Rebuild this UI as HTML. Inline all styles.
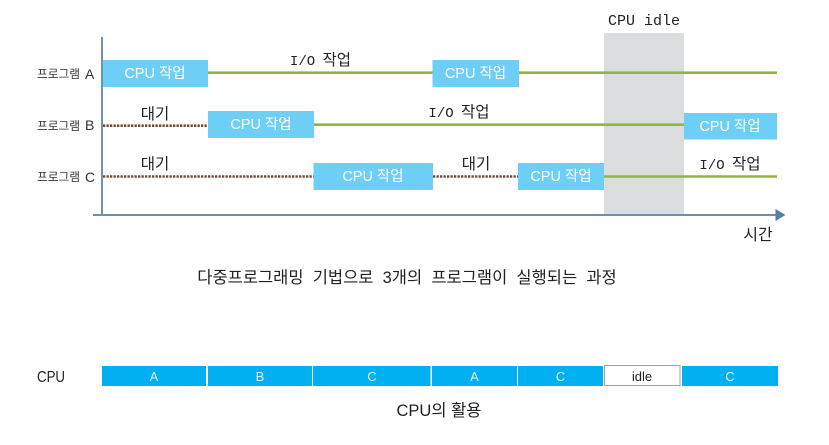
<!DOCTYPE html>
<html lang="ko"><head><meta charset="utf-8"><style>
html,body{margin:0;padding:0;background:#fff}
svg{display:block}
text{font-family:"Liberation Sans","Noto Sans CJK KR",sans-serif}
.w{fill:#fff;font-size:14.500px;text-anchor:middle}
.l{fill:#333;font-size:11.700px}
.m{font-family:"Liberation Mono","Noto Sans CJK KR",monospace;fill:#222;font-size:14px;text-anchor:middle}
.k{fill:#222;font-size:15.500px;text-anchor:middle}
.s{fill:#dff4fd;font-size:13px;text-anchor:middle}
</style></head><body>
<svg width="829" height="445" viewBox="0 0 829 445" xmlns="http://www.w3.org/2000/svg">
<rect x="604" y="33" width="80" height="181" fill="#dcddde"/>
<g stroke="#8fb63f" stroke-width="2.600">
<line x1="208" y1="72.700" x2="777" y2="72.700"/>
<line x1="314" y1="124.700" x2="684" y2="124.700"/>
<line x1="604" y1="176.500" x2="777" y2="176.500"/>
</g>
<g stroke="#6f4e37" stroke-width="2.600" stroke-dasharray="2.300 1.200">
<line x1="103" y1="125.700" x2="208" y2="125.700"/>
<line x1="103" y1="176.500" x2="314" y2="176.500"/>
<line x1="433" y1="176.500" x2="518" y2="176.500"/>
</g>
<g fill="#6dcff6">
<rect x="102" y="60" width="106" height="27"/>
<rect x="432.500" y="60" width="86.500" height="27"/>
<rect x="208" y="111" width="106" height="27"/>
<rect x="684" y="113" width="93" height="26.500"/>
<rect x="313.500" y="163" width="119.500" height="27"/>
<rect x="518" y="163" width="86" height="27"/>
</g>
<rect x="101" y="37" width="2" height="178" fill="#7391b5"/>
<rect x="93" y="214" width="683" height="2" fill="#6c8fb5"/>
<polygon points="775.500,209 785.500,215 775.500,221" fill="#4f81ac"/>
<text class="w" x="155" y="78">CPU 작업</text>
<text class="w" x="475.500" y="78">CPU 작업</text>
<text class="w" x="261" y="129">CPU 작업</text>
<text class="w" x="730" y="131">CPU 작업</text>
<text class="w" x="373" y="181">CPU 작업</text>
<text class="w" x="561" y="181">CPU 작업</text>
<text class="l" x="37" y="78">프로그램</text><text x="85" y="79" font-size="14" fill="#333">A</text>
<text class="l" x="37" y="130">프로그램</text><text x="85" y="130" font-size="14" fill="#333">B</text>
<text class="l" x="37" y="181">프로그램</text><text x="85" y="182" font-size="14" fill="#333">C</text>
<text class="m" x="320.500" y="65" word-spacing="-1">I/O <tspan font-size="15.500">작업</tspan></text>
<text class="m" x="459" y="117" word-spacing="-1">I/O <tspan font-size="15.500">작업</tspan></text>
<text class="m" x="730" y="169" word-spacing="-1">I/O <tspan font-size="15.500">작업</tspan></text>
<text class="m" x="644" y="25" style="font-size:15px">CPU idle</text>
<text class="k" x="155" y="119">대기</text>
<text class="k" x="155" y="169">대기</text>
<text class="k" x="476" y="169">대기</text>
<text class="k" x="758" y="240" style="font-size:16px">시간</text>
<text class="k" x="407" y="283" style="font-size:16.500px;word-spacing:4.600px">다중프로그래밍 기법으로 3개의 프로그램이 실행되는 과정</text>
<g fill="#00b0f0">
<rect x="102" y="366" width="104" height="20"/>
<rect x="208" y="366" width="104" height="20"/>
<rect x="313" y="366" width="117.500" height="20"/>
<rect x="432" y="366" width="85" height="20"/>
<rect x="518" y="366" width="85" height="20"/>
<rect x="682" y="366" width="96" height="20"/>
</g>
<rect x="604.500" y="365.500" width="75.500" height="20" fill="#fff" stroke="#a0a0a0" stroke-width="1"/>
<text class="s" x="154" y="381">A</text>
<text class="s" x="260" y="381">B</text>
<text class="s" x="372" y="381">C</text>
<text class="s" x="474.500" y="381">A</text>
<text class="s" x="560.500" y="381">C</text>
<text class="s" x="730" y="381">C</text>
<text x="642" y="381" font-size="13" fill="#222" text-anchor="middle">idle</text>
<text x="37" y="382" font-size="15.500" fill="#222" textLength="28" lengthAdjust="spacingAndGlyphs">CPU</text>
<text class="k" x="439" y="416" style="font-size:16.500px">CPU의 활용</text>
</svg>
</body></html>
